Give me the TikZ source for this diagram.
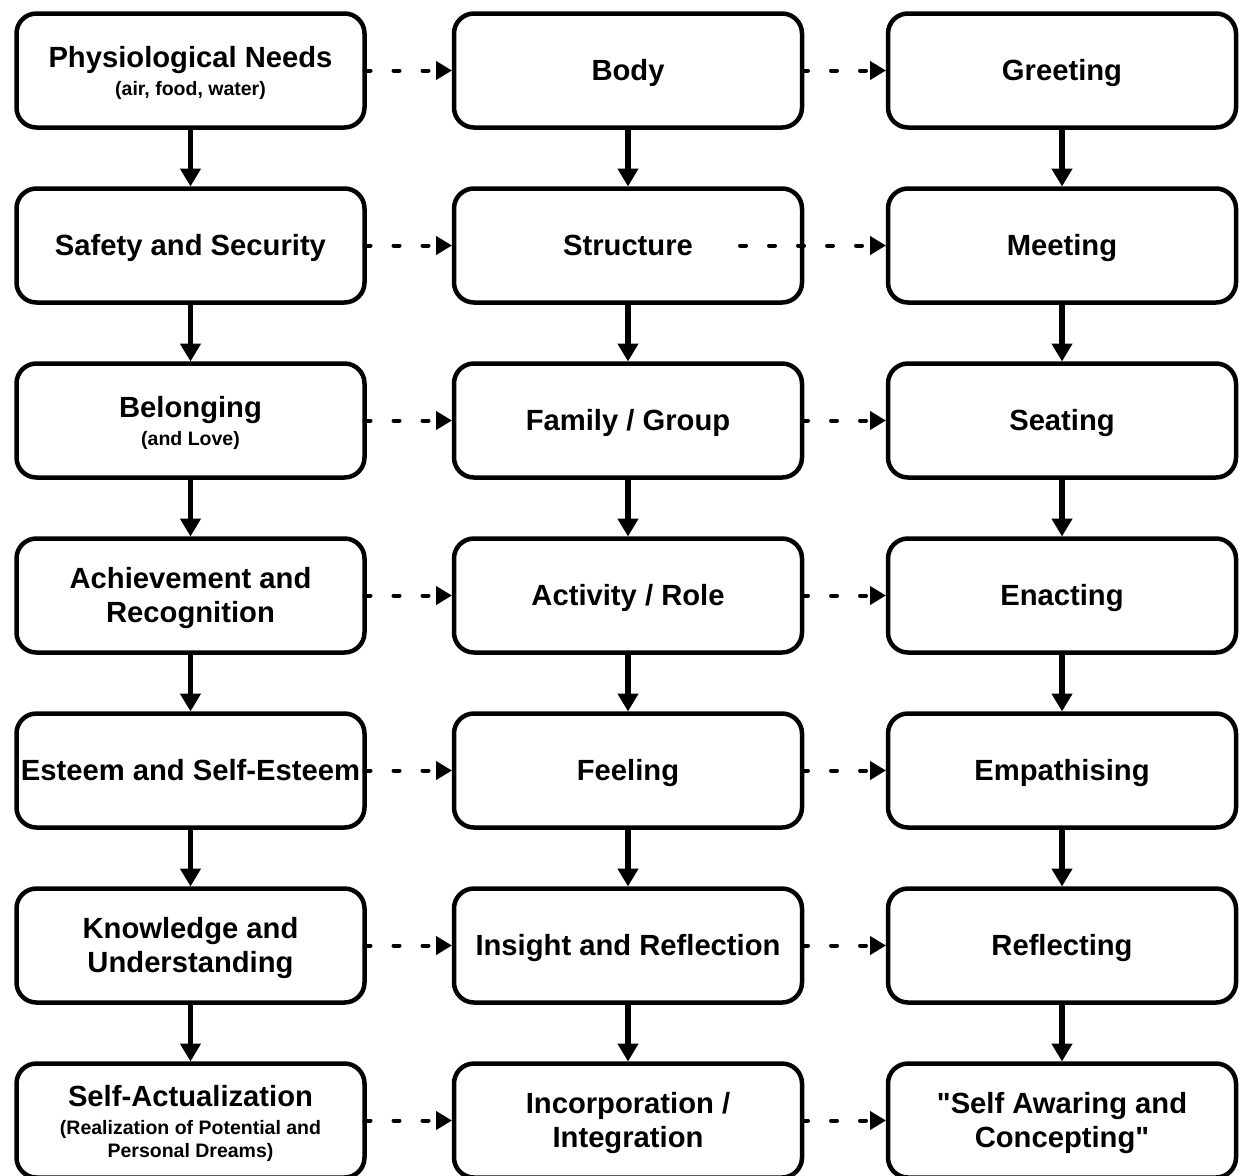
\documentclass[tikz,border=0pt]{standalone}
\usepackage{fontspec}
\setmainfont{Liberation Sans}[Ligatures=TeXOff]
\usetikzlibrary{arrows.meta}
\newcommand\mainf{\fontsize{29.2}{34}\selectfont\bfseries}
\newcommand\subf{\fontsize{19.5}{23}\selectfont\bfseries}
\newcommand\lst{\rule[-0.212em]{0pt}{1.117em}}
\tikzset{
  stepbox/.style={draw, line width=4.5pt, rounded corners=20pt, minimum width=348pt,
    minimum height=114pt, align=center, font=\mainf, inner sep=0pt, outer sep=0pt, fill=white},
  downarrow/.style={line width=5.5pt, -{Triangle[length=18pt,width=20pt]}, shorten >=2pt},
  dasharrow/.style={line width=4pt, line cap=round, dash pattern=on 6pt off 23pt,
    -{Triangle[length=16pt,width=18pt]}, shorten >=2pt}
}
\begin{document}
\begin{tikzpicture}[x=1pt,y=-1pt]
\useasboundingbox (0,0) rectangle (1239,1175);
\clip (0,0) rectangle (1239,1175);
\fill[white] (0,0) rectangle (1239,1175);
% column 1
\node[stepbox] (a1) at (190.5,70.5) {\lst Physiological Needs\\[-6pt]{\subf\lst (air, food, water)}};
\node[stepbox] (a2) at (190.5,245.5) {\lst Safety and Security};
\node[stepbox] (a3) at (190.5,420.5) {\lst Belonging\\[-6pt]{\subf\lst (and Love)}};
\node[stepbox] (a4) at (190.5,595.5) {\lst Achievement and\\\lst Recognition};
\node[stepbox] (a5) at (190.5,770.5) {\lst Esteem and Self-Esteem};
\node[stepbox] (a6) at (190.5,945.5) {\lst Knowledge and\\\lst Understanding};
\node[stepbox] (a7) at (190.5,1120.5) {\lst Self-Actualization\\[-6pt]{\subf\lst (Realization of Potential and}\\[-11pt]{\subf\lst Personal Dreams)}};
% column 2
\node[stepbox] (b1) at (628,70.5) {\lst Body};
\node[stepbox] (b2) at (628,245.5) {\lst Structure};
\node[stepbox] (b3) at (628,420.5) {\lst Family / Group};
\node[stepbox] (b4) at (628,595.5) {\lst Activity / Role};
\node[stepbox] (b5) at (628,770.5) {\lst Feeling};
\node[stepbox] (b6) at (628,945.5) {\lst Insight and Reflection};
\node[stepbox] (b7) at (628,1120.5) {\lst Incorporation /\\\lst Integration};
% column 3
\node[stepbox] (c1) at (1062,70.5) {\lst Greeting};
\node[stepbox] (c2) at (1062,245.5) {\lst Meeting};
\node[stepbox] (c3) at (1062,420.5) {\lst Seating};
\node[stepbox] (c4) at (1062,595.5) {\lst Enacting};
\node[stepbox] (c5) at (1062,770.5) {\lst Empathising};
\node[stepbox] (c6) at (1062,945.5) {\lst Reflecting};
\node[stepbox] (c7) at (1062,1120.5) {\lst"Self Awaring and\\\lst Concepting"};
% vertical arrows
\foreach \c in {a,b,c}{
  \foreach \i [evaluate=\i as \j using int(\i+1)] in {1,...,6}{
    \draw[downarrow] (\c\i.south) -- (\c\j.north);
  }
}
% horizontal dashed arrows
\coordinate (b2in) at ([xshift=-62pt]b2.east);
\foreach \i in {1,...,7}{
  \draw[dasharrow] (a\i.east) -- (b\i.west);
}
\foreach \i in {1,3,4,5,6,7}{
  \draw[dasharrow] (b\i.east) -- (c\i.west);
}
\draw[dasharrow] (b2in) -- (c2.west);
\end{tikzpicture}
\end{document}
